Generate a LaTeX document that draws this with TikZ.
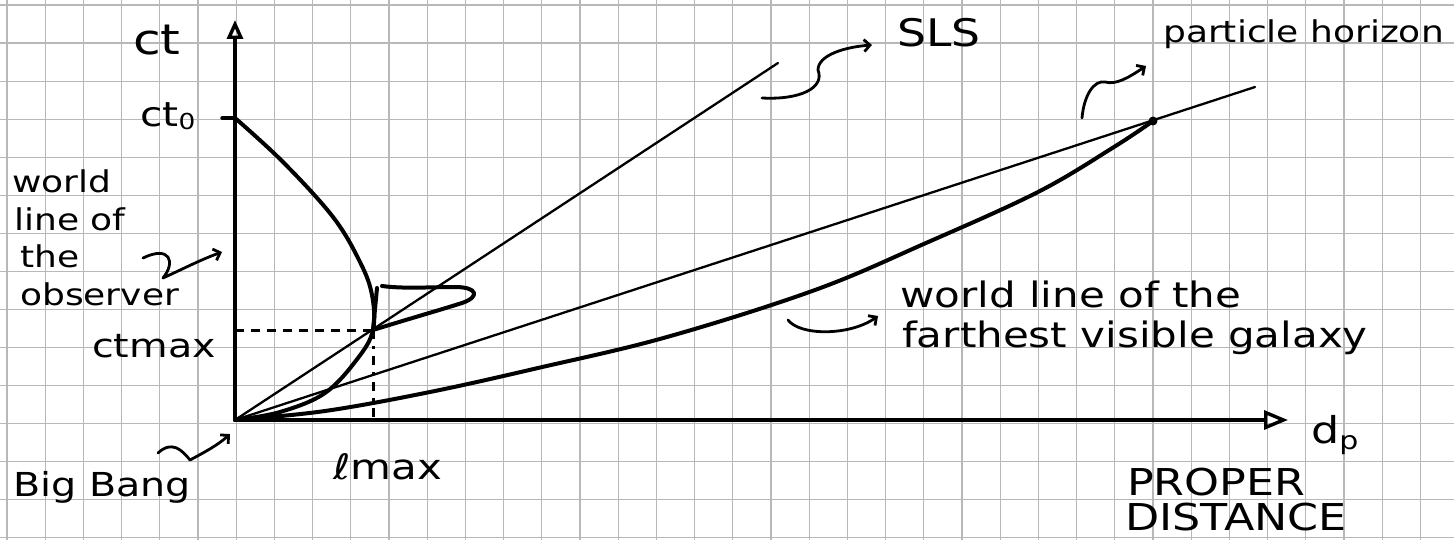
\documentclass[tikz,border=0pt]{standalone}
\usepackage{fontspec}
\newfontfamily\hand[FakeStretch=1.2]{DejaVu Sans}
\usetikzlibrary{arrows.meta}
\newcommand{\hs}[1]{\fontsize{#1}{#1}\selectfont}
\begin{document}
\begin{tikzpicture}[x=1pt,y=-1pt,
  ink/.style={line cap=round,line join=round,draw=black},
  axisline/.style={ink,line width=3.4pt},
  inkthick/.style={ink,line width=4pt},
  thinray/.style={ink,line width=2.3pt},
  pointer/.style={ink,line width=2.8pt,-{Straight Barb[length=6pt,width=12pt]}},
  lbl/.style={inner sep=0pt,anchor=base west,text=black,font=\hand},
  gridline/.style={black!28,line width=1.1pt}]
\fill[white] (0,0) rectangle (1454,540);
\useasboundingbox (0,0) rectangle (1454,540);
% graph paper
\foreach \i in {0,...,37} \draw[gridline] ({7+38.2*\i},0) -- ({7+38.2*\i},540);
\foreach \j in {0,...,14} \draw[gridline] (0,{5+38.05*\j}) -- (1454,{5+38.05*\j});
% key points
\coordinate (O) at (235,420);
\coordinate (Ytop) at (235,20);
\coordinate (Xend) at (1288,420);
\coordinate (T0) at (235,118);
\coordinate (T0tick) at (222,118);
\coordinate (Pm) at (373,330);
\coordinate (Pmx) at (235,330);
\coordinate (Lx) at (373,420);
\coordinate (SLSend) at (778,63);
\coordinate (PHend) at (1255,87);
\coordinate (G) at (1153,121);
% axes
\draw[axisline,-{Triangle[open,length=19pt,width=16pt]}] (O) -- (Ytop);
\draw[axisline,-{Triangle[open,length=24pt,width=19pt]}] (O) -- (Xend);
\draw[axisline] (T0tick) -- (T0);
% dashed guides
\draw[line width=3pt,dash pattern=on 9pt off 7pt] (Pmx) -- (Pm);
\draw[line width=3pt,dash pattern=on 9pt off 7pt on 3pt off 7pt] (Pm) -- (Lx);
% rays
\draw[thinray] (O) -- (SLSend);
\draw[thinray] (O) -- (PHend);
% past light cone of the observer
\draw[inkthick] plot[smooth,tension=0.6] coordinates {(T0) (283,162) (333,217) (360,262) (372,295) (Pm) (358,358) (325,393) (280,412) (O)};
% scribble loop
\draw[inkthick] (Pm) .. controls (405,320) and (440,310) .. (462,303) .. controls (480,297) and (478,287) .. (455,287) .. controls (430,287) and (405,289) .. (382,286);
\draw[inkthick] (377,288) -- (Pm);
% world line of the farthest visible galaxy
\draw[inkthick] plot[smooth,tension=0.6] coordinates {(O) (325,411) (430,392) (538,368) (667,337) (815,290) (926,243) (1038,192) (1114,147) (G)};
\fill (G) circle (4.5pt);
% labels
\node[lbl] (ct) at (133,55) {\hs{42}ct};
\node[lbl] (ctzero) at (140,127) {\hs{34}ct\raisebox{-3pt}{\hs{22}0}};
\node[lbl] (obs1) at (12,193) {\hs{30}world};
\node[lbl] (obs2) at (14,231) {\hs{30}line of};
\node[lbl] (obs3) at (20,268) {\hs{30}the};
\node[lbl] (obs4) at (20,305) {\hs{30}observer};
\node[lbl] (ctmax) at (92,357) {\hs{33}ctmax};
\node[lbl] (bigbang) at (13,496) {\hs{33}Big Bang};
\node[lbl] (lmax) at (333,479) {\hs{35}ℓmax};
\node[lbl] (sls) at (897,47) {\hs{38}SLS};
\node[lbl] (ph) at (1163,43) {\hs{30}particle horizon};
\node[lbl] (gal1) at (900,307) {\hs{35}world line of the};
\node[lbl] (gal2) at (902,347) {\hs{35}farthest visible galaxy};
\node[lbl] (dp) at (1311,443) {\hs{37}d\raisebox{-6pt}{\hs{25}p}};
\node[lbl] (proper) at (1127,495) {\hs{37}PROPER};
\node[lbl] (distance) at (1125,530) {\hs{37}DISTANCE};
% pointer squiggles
\coordinate (obsA) at (143,258); \coordinate (obsB) at (222,252);
\draw[pointer] (obsA) .. controls (170,245) and (176,262) .. (163,278) .. controls (185,268) and (200,260) .. (obsB);
\coordinate (bbA) at (158,453); \coordinate (bbB) at (230,434);
\draw[pointer] (bbA) .. controls (172,440) and (182,450) .. (190,460) .. controls (205,452) and (218,445) .. (bbB);
\coordinate (slsA) at (762,98); \coordinate (slsB) at (872,45);
\draw[pointer] (slsA) .. controls (800,100) and (825,88) .. (818,70) .. controls (818,55) and (845,47) .. (slsB);
\coordinate (phA) at (1082,118); \coordinate (phB) at (1146,66);
\draw[pointer] (phA) .. controls (1084,95) and (1094,80) .. (1105,82) .. controls (1116,85) and (1128,78) .. (phB);
\coordinate (galA) at (788,320); \coordinate (galB) at (878,316);
\draw[pointer] (galA) .. controls (800,336) and (850,336) .. (galB);
\end{tikzpicture}
\end{document}
